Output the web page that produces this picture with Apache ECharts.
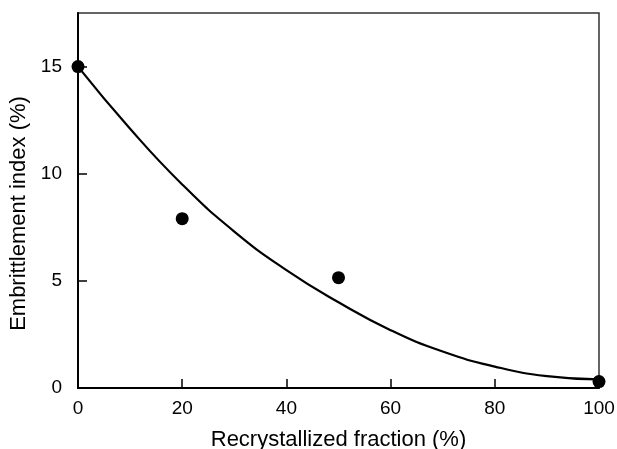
<!DOCTYPE html>
<html>
<head>
<meta charset="utf-8">
<script src="https://cdn.jsdelivr.net/npm/echarts@6/dist/echarts.min.js"></script>
<style>
html,body{margin:0;padding:0;background:#fff;}
#chart{width:617px;height:449px;}
</style>
</head>
<body>
<div id="chart"></div>
<script>
// Measured points
const pointX = [0, 20, 50, 100];
const pointY = [15, 7.9, 5.15, 0.3];
// Fitted curve
const curveX = [0, 10, 20, 30, 40, 50, 60, 70, 80, 90, 100];
const curveY = [15, 12.1, 9.5, 7.3, 5.5, 4.0, 2.7, 1.7, 1.0, 0.55, 0.4];
const xTicks = [0, 20, 40, 60, 80, 100];
const yTicks = [0, 5, 10, 15];

const chart = echarts.init(document.getElementById('chart'));
const font = 'Liberation Sans, Arial, Helvetica, sans-serif';
chart.setOption({
  animation: false,
  backgroundColor: '#fff',
  grid: {
    left: 78, right: 18, top: 13, bottom: 61, outerBoundsMode: 'none', containLabel: false,
    show: true, borderColor: '#333', borderWidth: 1.5, backgroundColor: 'transparent'
  },
  xAxis: {
    type: 'value', min: 0, max: 100, interval: 20,
    name: 'Recrystallized fraction (%)', nameLocation: 'middle', nameGap: 41,
    nameTextStyle: { fontFamily: font, fontSize: 22, color: '#000' },
    axisLine: { show: true, lineStyle: { color: '#000', width: 2 } },
    axisTick: { show: true, inside: true, length: 9, customValues: xTicks, lineStyle: { color: '#000', width: 1.5 } },
    axisLabel: { margin: 11, fontFamily: font, fontSize: 19, color: '#000', customValues: xTicks },
    splitLine: { show: false }
  },
  yAxis: {
    type: 'value', min: 0, max: 17.5, interval: 5,
    name: 'Embrittlement index (%)', nameLocation: 'middle', nameGap: 46,
    nameTextStyle: { fontFamily: font, fontSize: 22, color: '#000', padding: [0, 26, 0, 0] },
    axisLine: { show: true, lineStyle: { color: '#000', width: 2 } },
    axisTick: { show: true, inside: true, length: 9, customValues: yTicks, lineStyle: { color: '#000', width: 1.5 } },
    axisLabel: { margin: 16, fontFamily: font, fontSize: 19, color: '#000', customValues: yTicks },
    splitLine: { show: false }
  },
  series: [
    {
      type: 'line', smooth: 0.5, showSymbol: false, clip: false,
      data: curveX.map((x, i) => [x, curveY[i]]),
      lineStyle: { color: '#000', width: 2.2 }
    },
    {
      type: 'scatter', clip: false, symbol: 'circle', symbolSize: 13,
      data: pointX.map((x, i) => [x, pointY[i]]),
      itemStyle: { color: '#000', opacity: 1 }
    }
  ]
});
</script>
</body>
</html>
